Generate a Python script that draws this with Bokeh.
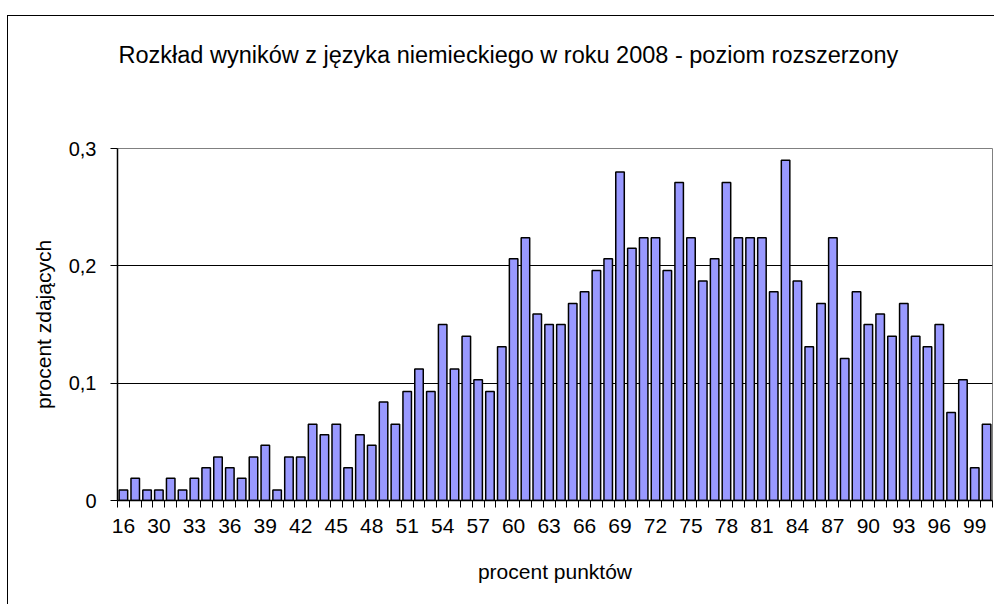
from bokeh.plotting import figure
from bokeh.models import Range1d, FixedTicker, Spacer, Title
from bokeh.layouts import column, row
from bokeh.embed import file_html
from bokeh.resources import INLINE

# ---- data ----
categories = ["16", "26", "28"] + [str(v) for v in range(30, 101)]
values = [
    0.009, 0.019, 0.009, 0.009, 0.019, 0.009, 0.019, 0.028, 0.037, 0.028, 0.019, 0.037,
    0.047, 0.009, 0.037, 0.037, 0.065, 0.056, 0.065, 0.028, 0.056, 0.047, 0.084, 0.065,
    0.093, 0.112, 0.093, 0.150, 0.112, 0.140, 0.103, 0.093, 0.131, 0.206, 0.224, 0.159,
    0.150, 0.150, 0.168, 0.178, 0.196, 0.206, 0.280, 0.215, 0.224, 0.224, 0.196, 0.271,
    0.224, 0.187, 0.206, 0.271, 0.224, 0.224, 0.224, 0.178, 0.290, 0.187, 0.131, 0.168,
    0.224, 0.121, 0.178, 0.150, 0.159, 0.140, 0.168, 0.140, 0.131, 0.150, 0.075, 0.103,
    0.028, 0.065,
]
y_ticks = [0, 0.1, 0.2, 0.3]
y_tick_labels = ["0", "0,1", "0,2", "0,3"]
title_text = "Rozkład wyników z języka niemieckiego w roku 2008 - poziom rozszerzony"
x_title = "procent punktów"
y_title = "procent zdających"

FONT = "Liberation Sans"
n = len(categories)
xs = [i + 0.5 for i in range(n)]

W, H = 986, 588
p = figure(width=W, height=H, output_backend="svg", toolbar_location=None,
           x_range=Range1d(0, n), y_range=Range1d(0, 0.3),
           min_border_left=109, min_border_right=2, min_border_top=132,
           min_border_bottom=104)
p.background_fill_color = "white"
p.border_fill_color = "white"
p.outline_line_color = "#808080"
p.outline_line_width = 1

# title: a thin spacer title next to the frame, the real title above it
gap = Title(text=" ", text_font_size="1px", standoff=78)
main_title = Title(text=title_text, align="left", offset=1, standoff=0,
                   vertical_align="bottom", text_font=FONT, text_font_size="23.5px",
                   text_font_style="normal", text_color="black")
p.add_layout(gap, "above")
p.add_layout(main_title, "above")

p.vbar(x=xs, top=values, width=0.72, bottom=0,
       fill_color="#9999FF", line_color="black", line_width=1.5)

# x axis: labels every 3rd category, ticks at category boundaries
lab_idx = list(range(0, n, 3))
xt = FixedTicker(ticks=[i + 0.5 for i in lab_idx], minor_ticks=list(range(0, n + 1)))
p.xaxis.ticker = xt
p.xaxis.major_label_overrides = {i + 0.5: categories[i] for i in lab_idx}
p.xaxis.major_tick_out = 0
p.xaxis.major_tick_in = 0
p.xaxis.minor_tick_out = 7
p.xaxis.minor_tick_in = 0
p.xaxis.minor_tick_line_color = "black"
p.xaxis.axis_line_color = "black"
p.xaxis.axis_line_width = 1.5
p.xaxis.major_label_text_font = FONT
p.xaxis.major_label_text_font_size = "21px"
p.xaxis.major_label_text_color = "black"
p.xaxis.major_label_standoff = 11
p.xaxis.axis_label = x_title
p.xaxis.axis_label_text_font = FONT
p.xaxis.axis_label_text_font_size = "21px"
p.xaxis.axis_label_text_font_style = "normal"
p.xaxis.axis_label_text_color = "black"
p.xaxis.axis_label_standoff = 24

# y axis
p.yaxis.ticker = FixedTicker(ticks=y_ticks)
p.yaxis.major_label_overrides = {t: l for t, l in zip(y_ticks, y_tick_labels)}
p.yaxis.major_tick_out = 7
p.yaxis.major_tick_in = 0
p.yaxis.minor_tick_line_color = None
p.yaxis.axis_line_color = "black"
p.yaxis.axis_line_width = 1.5
p.yaxis.major_tick_line_color = "black"
p.yaxis.major_label_text_font = FONT
p.yaxis.major_label_text_font_size = "20px"
p.yaxis.major_label_text_color = "black"
p.yaxis.major_label_standoff = 14
p.yaxis.axis_label = y_title
p.yaxis.axis_label_text_font = FONT
p.yaxis.axis_label_text_font_size = "21px"
p.yaxis.axis_label_text_font_style = "normal"
p.yaxis.axis_label_text_color = "black"
p.yaxis.axis_label_standoff = 11

p.xgrid.grid_line_color = None
p.ygrid.ticker = FixedTicker(ticks=[0.1, 0.2])
p.ygrid.grid_line_color = "black"
p.ygrid.grid_line_width = 1

# outer chart-area frame: left and top edges (right/bottom lie outside the view)
top_gap = Spacer(width=7 + 1 + W, height=15)
left_gap = Spacer(width=7, height=H + 1)
top_edge = Spacer(width=W + 1, height=1, styles={"background-color": "black"})
left_edge = Spacer(width=1, height=H, styles={"background-color": "black"})
layout = column(top_gap,
                row(left_gap, column(top_edge, row(left_edge, p, spacing=0), spacing=0),
                    spacing=0),
                spacing=0)

open("out.html", "w").write(file_html(layout, INLINE))
